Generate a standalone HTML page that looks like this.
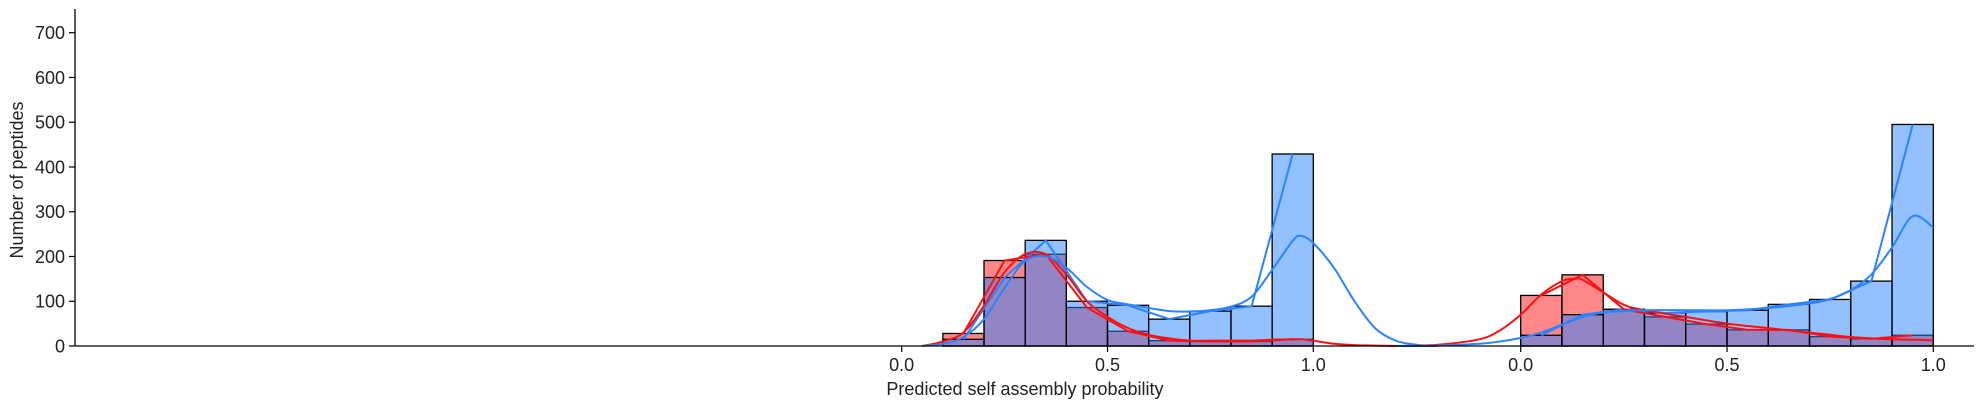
<!DOCTYPE html>
<html><head><meta charset="utf-8"><style>
html,body{margin:0;padding:0;background:#fff;}
svg{display:block;font-family:"Liberation Sans","DejaVu Sans",sans-serif;}
</style></head><body>
<svg id="chart" width="1984" height="407" viewBox="0 0 1984 407"></svg>
<script>
const yTicks=[0,100,200,300,400,500,600,700];
const xTickLabels=["0.0","0.5","1.0"];
const binEdges=[0.1,0.2,0.3,0.4,0.5,0.6,0.7,0.8,0.9];
const g1Blue=[15,153,236,100,91,60,78,89,429];
const g1Red=[28,191,205,86,33,12,10,10,15];
const binEdges2=[0.0,0.1,0.2,0.3,0.4,0.5,0.6,0.7,0.8,0.9];
const g2Blue=[24,70,82,74,77,80,93,104,145,495];
const g2Red=[113,159,82,65,49,36,36,21,16,24];
const kdeX1=[0.05,0.1,0.15,0.2,0.25,0.3,0.35,0.4,0.45,0.5,0.55,0.6,0.65,0.7,0.75,0.8,0.85,0.9,0.95,0.97,1.0,1.05,1.1,1.15,1.2,1.25,1.3];
const kdeBlue1=[0,5,20,60,130,190,200,175,132,103,93,85,78,77,80,88,110,170,235,246,230,175,100,40,12,3,0];
const kdeRed1=[0,10,30,90,165,205,205,160,100,65,40,25,17,12,12,12,12,14,15,15,12,5,2,1,0,0,0];
const kdeX2=[-0.3,-0.2,-0.1,-0.05,0,0.05,0.1,0.13,0.15,0.2,0.25,0.3,0.4,0.5,0.6,0.7,0.75,0.8,0.85,0.9,0.95,1.0];
const kdeBlue2=[0,1,5,10,18,30,48,58,65,75,78,80,80,80,85,95,105,125,160,220,290,265];
const kdeRed2=[0,3,15,35,70,115,145,150,148,120,92,80,65,50,40,30,25,20,17,15,14,13];

const svg=document.getElementById('chart');
const NS='http://www.w3.org/2000/svg';
const y0=346, pxPer=(346-32.7)/700;
const yS=v=>y0-v*pxPer;
const x1=v=>901.7+v*411.6;
const x2=v=>1520.7+v*412.6;
const BW=0.1;
function mk(tag,attrs,parent){const e=document.createElementNS(NS,tag);for(const k in attrs)e.setAttribute(k,attrs[k]);(parent||svg).appendChild(e);return e;}

function drawBars(edges,vals,xs,fill,name){
  edges.forEach((e,i)=>{
    const r=mk('rect',{x:xs(e),y:yS(vals[i]),width:xs(e+BW)-xs(e),height:yS(0)-yS(vals[i]),fill:fill,stroke:'#000','stroke-width':1.3});
    
    
  });
}
function drawLine(xsArr,vals,xs,color,name,w){
  const d=xsArr.map((x,i)=>(i?'L':'M')+xs(x).toFixed(1)+','+yS(vals[i]).toFixed(1)).join(' ');
  const p=mk('path',{d:d,fill:'none',stroke:color,'stroke-width':w||2});
  
  
}
function smooth(xsArr,vals,xs,color,name){
  const pts=xsArr.map((x,i)=>[xs(x),yS(vals[i])]);
  let d='M'+pts[0][0]+','+pts[0][1];
  for(let i=0;i<pts.length-1;i++){
    const p0=pts[i-1]||pts[i],p1=pts[i],p2=pts[i+1],p3=pts[i+2]||p2;
    const c1=[p1[0]+(p2[0]-p0[0])/6,p1[1]+(p2[1]-p0[1])/6];
    const c2=[p2[0]-(p3[0]-p1[0])/6,p2[1]-(p3[1]-p1[1])/6];
    d+=` C${c1[0].toFixed(1)},${c1[1].toFixed(1)} ${c2[0].toFixed(1)},${c2[1].toFixed(1)} ${p2[0].toFixed(1)},${p2[1].toFixed(1)}`;
  }
  const p=mk('path',{d:d,fill:'none',stroke:color,'stroke-width':2});
  
  
}
const RED='rgba(255,0,0,0.47)', BLUE='rgba(40,130,255,0.5)';
drawBars(binEdges,g1Red,x1,RED,'group1-red');
drawBars(binEdges,g1Blue,x1,BLUE,'group1-blue');
drawBars(binEdges2,g2Red,x2,RED,'group2-red');
drawBars(binEdges2,g2Blue,x2,BLUE,'group2-blue');
const c1=binEdges.map(e=>e+BW/2), c2=binEdges2.map(e=>e+BW/2);
drawLine(c1,g1Blue,x1,'#2a84ff','group1-blue-poly');
drawLine(c1,g1Red,x1,'#ff1010','group1-red-poly');
drawLine(c2,g2Blue,x2,'#2a84ff','group2-blue-poly');
drawLine(c2,g2Red,x2,'#ff1010','group2-red-poly');
smooth(kdeX1,kdeRed1,x1,'#ff1010','group1-red-kde');
smooth(kdeX1,kdeBlue1,x1,'#2a84ff','group1-blue-kde');
smooth(kdeX2,kdeRed2,x2,'#ff1010','group2-red-kde');
smooth(kdeX2,kdeBlue2,x2,'#2a84ff','group2-blue-kde');

// axes
let a=mk('line',{x1:75,y1:9,x2:75,y2:y0,stroke:'#000','stroke-width':1.3});

a=mk('line',{x1:75,y1:y0,x2:1974,y2:y0,stroke:'#000','stroke-width':1.3});

yTicks.forEach(v=>{
  const t=mk('line',{x1:69,y1:yS(v),x2:75,y2:yS(v),stroke:'#000','stroke-width':1.2});
  
  const l=mk('text',{x:65,y:yS(v)+6.5,'text-anchor':'end','font-size':18,fill:'#222'});
  l.textContent=v;
  
});
[x1,x2].forEach((xs,g)=>{
  xTickLabels.forEach(s=>{
    const v=parseFloat(s);
    const t=mk('line',{x1:xs(v),y1:y0,x2:xs(v),y2:y0+6,stroke:'#000','stroke-width':1.2});
    
    const l=mk('text',{x:xs(v),y:371,'text-anchor':'middle','font-size':18,fill:'#222'});
    l.textContent=s;
    
  });
});
let t=mk('text',{x:1025,y:395,'text-anchor':'middle','font-size':18,fill:'#222'});
t.textContent='Predicted self assembly probability';

t=mk('text',{x:0,y:0,'text-anchor':'middle','font-size':18,fill:'#222',transform:'translate(23,180) rotate(-90)'});
t.textContent='Number of peptides';

</script>
</body></html>
